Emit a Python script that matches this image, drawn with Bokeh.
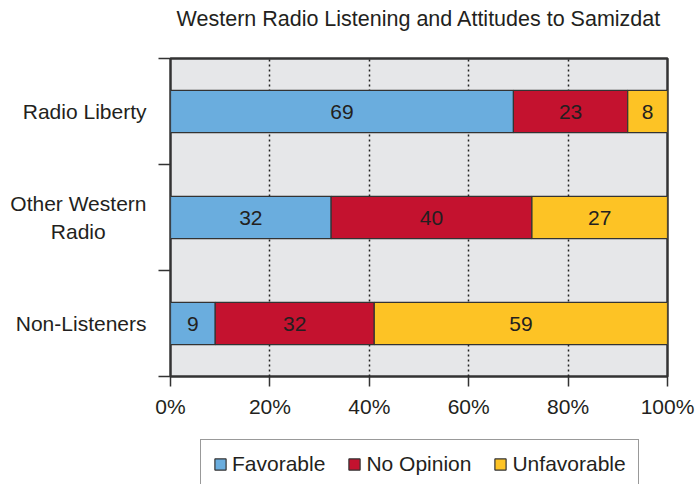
from bokeh.plotting import figure
from bokeh.layouts import column
from bokeh.models import (FixedTicker, Legend, LegendItem, ColumnDataSource,
                          Range1d, Label)
from bokeh.embed import file_html
from bokeh.resources import INLINE
from bokeh.core.properties import value

# ---- data ----
categories = ["Radio Liberty", "Other Western Radio", "Non-Listeners"]
category_lines = [["Radio Liberty"], ["Other Western", "Radio"], ["Non-Listeners"]]
favorable = [69, 32, 9]
no_opinion = [23, 40, 32]
unfavorable = [8, 27, 59]
series_names = ["Favorable", "No Opinion", "Unfavorable"]
series_colors = ["#6aadde", "#c4122f", "#fdc325"]
x_ticks = [0, 20, 40, 60, 80, 100]
x_tick_labels = ["0%", "20%", "40%", "60%", "80%", "100%"]
title_text = "Western Radio Listening and Attitudes to Samizdat"

FONT = "Liberation Sans"
FS = "21px"
TXT = "#231f20"
DARK = "#333333"
series_values = [favorable, no_opinion, unfavorable]

n = len(categories)
ypos = [n - i - 0.5 for i in range(n)]
totals = [sum(v[i] for v in series_values) for i in range(n)]
data = {"y": ypos, "cat": categories}
for name, vals in zip(series_names, series_values):
    data[name] = [v / t * 100 for v, t in zip(vals, totals)]
source = ColumnDataSource(data)


# centre shorter lines of a multi-line label under the longest one
# (approximate Arial/Liberation advance widths, 1/1000 em)
_W = {" ": 278, "\u00a0": 278, "O": 778, "W": 944, "R": 722, "N": 722, "L": 556,
      "t": 278, "h": 556, "e": 556, "r": 333, "s": 500, "n": 556, "a": 556,
      "d": 556, "i": 222, "o": 556, "b": 556, "y": 500, "-": 333}


def _w(s):
    return sum(_W.get(c, 556) for c in s)


def block_label(lines):
    if len(lines) == 1:
        return lines[0]
    longest = max(_w(l) for l in lines)
    out = []
    for l in lines:
        pad = int(round((longest - _w(l)) / 2 / 278))
        out.append(l + "\u00a0" * pad)
    return "\n".join(out)


category_labels = [block_label(ls) for ls in category_lines]


def strip(height):
    f = figure(width=696, height=height, x_range=Range1d(0, 1),
               y_range=Range1d(0, height), output_backend="svg",
               toolbar_location=None, x_axis_type=None, y_axis_type=None,
               min_border_left=170, min_border_right=29, min_border_top=0,
               min_border_bottom=0)
    f.outline_line_color = None
    f.xgrid.visible = False
    f.ygrid.visible = False
    f.background_fill_color = "white"
    f.border_fill_color = "white"
    return f


# ---- title strip ----
tf = strip(54)
tf.add_layout(Label(x=0.5, y=36, text=title_text, text_align="center",
                    text_baseline="middle", text_font=FONT,
                    text_font_size="21.5px", text_color=TXT))

# ---- main chart ----
p = figure(width=696, height=366, x_range=Range1d(0, 100), y_range=Range1d(0, n),
           output_backend="svg", toolbar_location=None,
           min_border_left=170, min_border_right=29, min_border_top=4,
           min_border_bottom=42)

p.background_fill_color = "#e6e7e9"
p.border_fill_color = "white"
p.outline_line_color = DARK
p.outline_line_width = 2.5

renderers = p.hbar_stack(series_names, y="y", height=0.4, source=source,
                         fill_color=series_colors, line_color=DARK,
                         line_width=1.2)

# labels inside segments
lx, ly, lt = [], [], []
for i in range(n):
    left = 0.0
    for name, vals in zip(series_names, series_values):
        w = data[name][i]
        lx.append(left + w / 2)
        ly.append(ypos[i])
        lt.append(str(vals[i]))
        left += w
p.text(x=lx, y=ly, text=lt, text_align="center", text_baseline="middle",
       text_font=value(FONT), text_font_size=FS, text_color=TXT)

# grid
p.ygrid.visible = False
p.xgrid.ticker = FixedTicker(ticks=x_ticks[1:-1])
p.xgrid.grid_line_color = "#222222"
p.xgrid.grid_line_dash = "2 3"
p.xgrid.grid_line_width = 1.5

# x axis
xa = p.xaxis[0]
xa.ticker = FixedTicker(ticks=x_ticks)
xa.major_label_overrides = {t: l for t, l in zip(x_ticks, x_tick_labels)}
xa.major_tick_in = 0
xa.major_tick_out = 10
xa.minor_tick_out = 0
xa.minor_tick_in = 0
xa.axis_line_color = None
xa.major_tick_line_color = DARK
xa.major_tick_line_width = 1.5
xa.major_label_text_font = FONT
xa.major_label_text_font_size = FS
xa.major_label_text_color = TXT
xa.major_label_standoff = 8

# y axis
ya = p.yaxis[0]
ya.ticker = FixedTicker(ticks=ypos, minor_ticks=list(range(n + 1)))
ya.major_label_overrides = {y: l for y, l in zip(ypos, category_labels)}
ya.major_tick_in = 0
ya.major_tick_out = 0
ya.minor_tick_in = 0
ya.minor_tick_out = 12
ya.minor_tick_line_color = DARK
ya.minor_tick_line_width = 1.5
ya.axis_line_color = None
ya.major_label_text_font = FONT
ya.major_label_text_font_size = FS
ya.major_label_text_color = TXT
ya.major_label_standoff = 12

# ---- legend strip ----
lf = strip(64)
# proxy glyphs (placed outside the visible range) that only feed the legend
legend_renderers = [lf.hbar(y=[-50], left=[0], right=[1], height=1, fill_color=c,
                            line_color=DARK, line_width=1.2)
                    for c in series_colors]

legend = Legend(items=[LegendItem(label=nm, renderers=[r])
                       for nm, r in zip(series_names, legend_renderers)],
                orientation="horizontal", location=(30, -5),
                border_line_color=DARK, border_line_width=1.2,
                padding=12, spacing=22, label_standoff=5,
                glyph_width=14, glyph_height=14,
                label_text_font=FONT, label_text_font_size=FS,
                label_text_color=TXT, margin=0)
lf.add_layout(legend, "center")

layout = column(tf, p, lf, spacing=0)
open("out.html", "w").write(file_html(layout, INLINE))
